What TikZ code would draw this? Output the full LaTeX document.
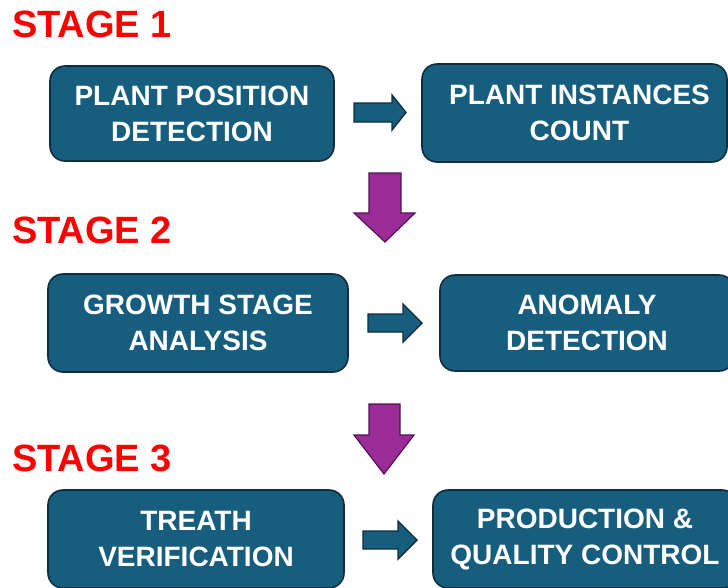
\documentclass[tikz,border=0pt]{standalone}
\usepackage{fontspec}
\setmainfont{Liberation Sans}
\begin{document}
\definecolor{boxfill}{HTML}{175E7E}
\definecolor{boxline}{HTML}{0F2D3D}
\definecolor{purplefill}{HTML}{9A2B97}
\definecolor{purpleline}{HTML}{4E1450}
\definecolor{stagered}{HTML}{FF0000}
\begin{tikzpicture}[x=1pt,y=-1pt,
  stagebox/.style={draw=boxline, fill=boxfill, line width=1.6pt, rounded corners=15pt,
    text=white, font=\bfseries\fontsize{28}{36}\selectfont, align=center, inner sep=0pt},
  stagelabel/.style={anchor=base west, text=stagered, inner sep=0pt,
    font=\bfseries\fontsize{38}{42}\selectfont},
  flowarrow/.style={draw=boxline, fill=boxfill, line width=1.4pt, line join=miter},
  stagearrow/.style={draw=purpleline, fill=purplefill, line width=1.2pt, line join=miter}]
\useasboundingbox (0,0) rectangle (728,587);

% stage headings
\node[stagelabel] (s1) at (12,37) {STAGE 1};
\node[stagelabel] (s2) at (12,243) {STAGE 2};
\node[stagelabel] (s3) at (12,471) {STAGE 3};

% process boxes
\node[stagebox, minimum width=284pt, minimum height=95pt] (b1) at (192,113.5) {PLANT POSITION\\DETECTION};
\node[stagebox, minimum width=305pt, minimum height=98pt] (b2) at (574.5,113)
  {\hspace*{10pt}PLANT INSTANCES\\\hspace*{10pt}COUNT};
\node[stagebox, minimum width=300pt, minimum height=98pt] (b3) at (198,323) {GROWTH STAGE\\ANALYSIS};
\node[stagebox, minimum width=294pt, minimum height=96pt] (b4) at (587,323) {ANOMALY\\DETECTION};
\node[stagebox, minimum width=296pt, minimum height=98pt] (b5) at (196,539) {TREATH\\VERIFICATION};
\node[stagebox, minimum width=304pt, minimum height=98pt] (b6) at (585,539) {PRODUCTION \&\\QUALITY CONTROL};

% block arrows between the boxes of one stage
\draw[flowarrow] (354,103) -- (392,103) -- (392,95) -- (406,112.5) -- (392,130)
  -- (392,122) -- (354,122) -- cycle;
\draw[flowarrow] (368,314) -- (403,314) -- (403,304) -- (422,323) -- (403,342)
  -- (403,332) -- (368,332) -- cycle;
\draw[flowarrow] (363,531) -- (398,531) -- (398,521) -- (417,540) -- (398,559)
  -- (398,549) -- (363,549) -- cycle;

% block arrows from one stage to the next
\draw[stagearrow] (369,173) -- (401,173) -- (401,213) -- (415,213) -- (385,242)
  -- (354,213) -- (369,213) -- cycle;
\draw[stagearrow] (369,404) -- (400,404) -- (400,435) -- (414,435) -- (384,474)
  -- (354,435) -- (369,435) -- cycle;
\end{tikzpicture}
\end{document}
